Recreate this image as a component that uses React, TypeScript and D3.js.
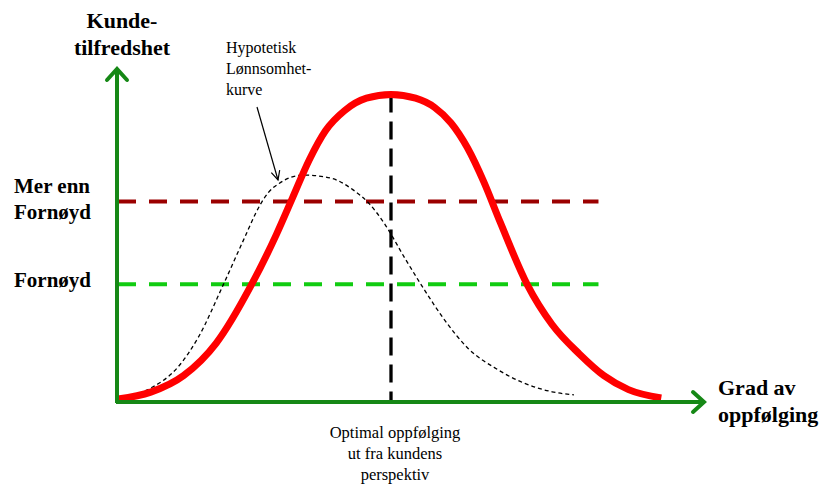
import React from "react";
import * as d3 from "d3";

// Red curve: customer satisfaction vs. degree of follow-up
const satX = [0, 1.2, 2.4, 3.6, 4.9, 5.8, 6.4, 7.0, 7.6, 8.3, 9.1, 10, 10.9, 11.6, 12.2, 12.8, 13.4, 14.0, 15.0, 15.9, 16.9, 17.8, 18.7, 19.9];
const satY = [1, 3.2, 8.5, 19, 38, 54, 66, 78, 87.5, 94, 98, 99.2, 98, 95, 90, 82, 71, 58, 37.7, 25, 15.5, 8.5, 4, 1.3];

// Hypothetical profitability curve (dotted)
const profX = [0, 1.2, 2.2, 2.95, 3.85, 4.6, 5.2, 5.5, 5.9, 6.8, 7.8, 8.6, 9.2, 9.8, 10.5, 11.2, 12.0, 12.8, 13.9, 14.9, 15.9, 16.7];
const profY = [1.3, 4.5, 11.3, 21, 37.7, 52.3, 63.5, 67.5, 70.5, 73.2, 72.2, 68.5, 64, 57, 46.5, 36.5, 26, 17.5, 10.5, 6, 3.3, 2.3];

// Reference levels
const levelNames = ["Mer enn Fornøyd", "Fornøyd"];
const levelValues = [64.7, 38];
const levelEnd = 17.6;
const optimalX = 10;
const optimalY = 99.2;

const yTitle = ["Kunde-", "tilfredshet"];
const xTitle = ["Grad av", "oppfølging"];
const curveLabel = ["Hypotetisk", "Lønnsomhet-", "kurve"];
const optimalLabel = ["Optimal oppfølging", "ut fra kundens", "perspektiv"];

const W = 825;
const H = 485;

export default function App() {
  const x = d3.scaleLinear().domain([0, 20]).range([118, 664]);
  const y = d3.scaleLinear().domain([0, 100]).range([402, 92]);

  const line = d3
    .line<[number, number]>()
    .x((d) => x(d[0]))
    .y((d) => y(d[1]))
    .curve(d3.curveMonotoneX);

  const satData: [number, number][] = satX.map((v, i) => [v, satY[i]]);
  const profData: [number, number][] = profX.map((v, i) => [v, profY[i]]);

  const axisColor = "#168816";
  const x0 = 117;
  const y0 = 402;
  const xEnd = 705;
  const yTop = 68;

  const bold = { fontFamily: "'Liberation Serif', 'Times New Roman', serif", fontWeight: "bold" as const, fill: "#000" };
  const reg = { fontFamily: "'Liberation Serif', 'Times New Roman', serif", fill: "#000" };

  // annotation arrow
  const ax1 = 257, ay1 = 107, ax2 = 278, ay2 = 180;
  const ang = Math.atan2(ay2 - ay1, ax2 - ax1);
  const hl = 10, ha = 0.45;
  const h1 = [ax2 - hl * Math.cos(ang - ha), ay2 - hl * Math.sin(ang - ha)];
  const h2 = [ax2 - hl * Math.cos(ang + ha), ay2 - hl * Math.sin(ang + ha)];

  return (
    <svg width={W} height={H} style={{ position: "absolute", left: 0, top: 0, background: "#fff" }}>
      <rect width={W} height={H} fill="#fff" />
      {/* reference levels */}
      <line x1={x(0)} x2={x(levelEnd)} y1={y(levelValues[0])} y2={y(levelValues[0])} stroke="#9b0000" strokeWidth={4} strokeDasharray="18 13" />
      <line x1={x(0)} x2={x(levelEnd)} y1={y(levelValues[1])} y2={y(levelValues[1])} stroke="#11cc11" strokeWidth={4} strokeDasharray="18 13" />
      {/* optimal vertical */}
      <line x1={x(optimalX)} x2={x(optimalX)} y1={y(optimalY)} y2={y0} stroke="#000" strokeWidth={3.3} strokeDasharray="18 9" />
      {/* profitability curve */}
      <path d={line(profData) || ""} fill="none" stroke="#000" strokeWidth={1.3} strokeDasharray="4 3" />
      {/* satisfaction curve */}
      <path d={line(satData) || ""} fill="none" stroke="#ff0000" strokeWidth={7} strokeLinejoin="round" />
      {/* axes */}
      <line x1={x0} x2={x0} y1={y0 + 1} y2={yTop + 2} stroke={axisColor} strokeWidth={4} />
      <line x1={x0 - 1} x2={xEnd - 2} y1={y0} y2={y0} stroke={axisColor} strokeWidth={4} />
      <polyline points={`${x0 - 10},${yTop + 12} ${x0},${yTop + 1} ${x0 + 10},${yTop + 12}`} fill="none" stroke={axisColor} strokeWidth={4} strokeLinecap="round" strokeLinejoin="miter" />
      <polyline points={`${xEnd - 12},${y0 - 10} ${xEnd - 1},${y0} ${xEnd - 12},${y0 + 10}`} fill="none" stroke={axisColor} strokeWidth={4} strokeLinecap="round" strokeLinejoin="miter" />
      {/* annotation arrow */}
      <line x1={ax1} y1={ay1} x2={ax2} y2={ay2} stroke="#000" strokeWidth={1.2} />
      <polyline points={`${h1[0]},${h1[1]} ${ax2},${ay2} ${h2[0]},${h2[1]}`} fill="none" stroke="#000" strokeWidth={1.2} />
      {/* titles */}
      <text x={122} y={28} textAnchor="middle" fontSize={22} {...bold}>{yTitle[0]}</text>
      <text x={122} y={55} textAnchor="middle" fontSize={22} {...bold}>{yTitle[1]}</text>
      <text x={14} y={193} fontSize={21} {...bold}>{levelNames[0].split(" ").slice(0, 2).join(" ")}</text>
      <text x={14} y={219} fontSize={21} {...bold}>{levelNames[0].split(" ")[2]}</text>
      <text x={14} y={287} fontSize={21} {...bold}>{levelNames[1]}</text>
      <text x={718} y={395} fontSize={22} {...bold}>{xTitle[0]}</text>
      <text x={718} y={422} fontSize={22} {...bold}>{xTitle[1]}</text>
      {curveLabel.map((t, i) => (
        <text key={t} x={226} y={53 + i * 21} fontSize={16} {...reg}>{t}</text>
      ))}
      {optimalLabel.map((t, i) => (
        <text key={t} x={395} y={438 + i * 21} textAnchor="middle" fontSize={16.5} {...reg}>{t}</text>
      ))}
    </svg>
  );
}
